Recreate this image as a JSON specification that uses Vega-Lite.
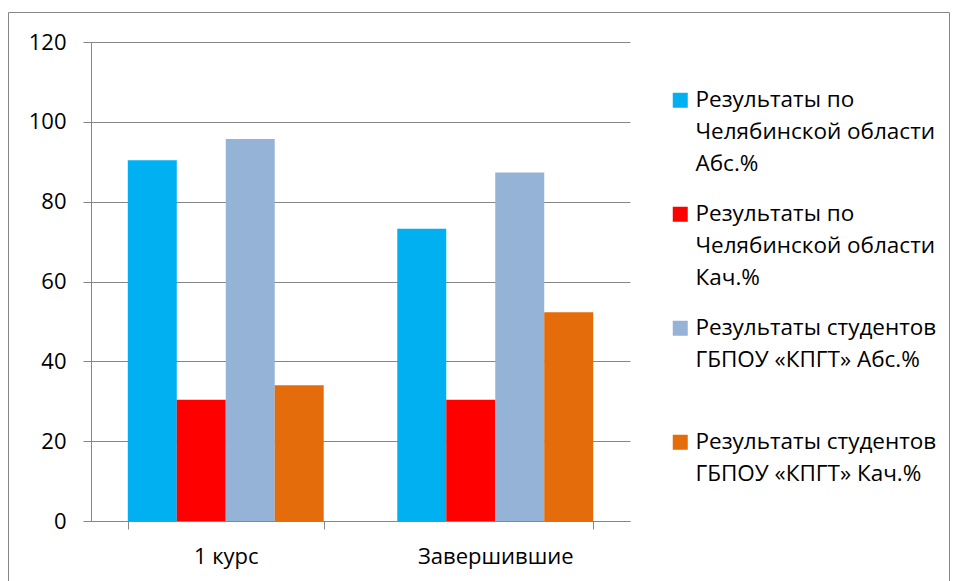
{
  "$schema": "https://vega.github.io/schema/vega-lite/v6.json",
  "autosize": {"type": "none"},
  "padding": {"left": 8, "top": 12, "right": 8, "bottom": 0},
  "width": 941,
  "height": 569,
  "background": "white",
  "data": {
    "values": [
      {"group": "1 курс", "series": "Результаты по|Челябинской области|Абс.%", "value": 90.4},
      {"group": "1 курс", "series": "Результаты по|Челябинской области|Кач.%", "value": 30.4},
      {"group": "1 курс", "series": "Результаты студентов|ГБПОУ «КПГТ» Абс.%|", "value": 95.7},
      {"group": "1 курс", "series": "Результаты студентов|ГБПОУ «КПГТ» Кач.%", "value": 34.0},
      {"group": "Завершившие", "series": "Результаты по|Челябинской области|Абс.%", "value": 73.2},
      {"group": "Завершившие", "series": "Результаты по|Челябинской области|Кач.%", "value": 30.4},
      {"group": "Завершившие", "series": "Результаты студентов|ГБПОУ «КПГТ» Абс.%|", "value": 87.3},
      {"group": "Завершившие", "series": "Результаты студентов|ГБПОУ «КПГТ» Кач.%", "value": 52.3}
    ]
  },
  "mark": {"type": "bar"},
  "encoding": {
    "x": {
      "field": "group",
      "type": "nominal",
      "sort": ["1 курс", "Завершившие"],
      "scale": {"range": [83, 622], "paddingInner": 0.273, "paddingOuter": 0.1365},
      "axis": {
        "title": null,
        "labelAngle": 0,
        "tickBand": "extent",
        "tickSize": 8,
        "tickColor": "#868686",
        "domainColor": "#868686",
        "labelPadding": 17,
        "labelFontSize": 22,
        "labelColor": "#000000",
        "labelFont": "Open Sans",
        "offset": -60,
        "grid": false
      }
    },
    "xOffset": {
      "field": "series",
      "type": "nominal",
      "sort": [
        "Результаты по|Челябинской области|Абс.%",
        "Результаты по|Челябинской области|Кач.%",
        "Результаты студентов|ГБПОУ «КПГТ» Абс.%|",
        "Результаты студентов|ГБПОУ «КПГТ» Кач.%"
      ],
      "scale": {"paddingInner": 0, "paddingOuter": 0}
    },
    "y": {
      "field": "value",
      "type": "quantitative",
      "scale": {"domain": [0, 120], "range": [509, 30], "nice": false},
      "axis": {
        "title": null,
        "values": [0, 20, 40, 60, 80, 100, 120],
        "offset": -83,
        "tickSize": 8,
        "tickColor": "#868686",
        "domainColor": "#868686",
        "gridColor": "#868686",
        "gridOpacity": 1,
        "labelPadding": 17,
        "labelFontSize": 22,
        "labelColor": "#000000",
        "labelFont": "Open Sans"
      }
    },
    "color": {
      "field": "series",
      "type": "nominal",
      "scale": {
        "domain": [
          "Результаты по|Челябинской области|Абс.%",
          "Результаты по|Челябинской области|Кач.%",
          "Результаты студентов|ГБПОУ «КПГТ» Абс.%|",
          "Результаты студентов|ГБПОУ «КПГТ» Кач.%"
        ],
        "range": ["#00B0F0", "#FF0000", "#95B3D7", "#E46C0A"]
      },
      "legend": {
        "title": null,
        "orient": "none",
        "legendX": 661,
        "legendY": 77,
        "symbolType": "square",
        "symbolSize": 225,
        "symbolStrokeWidth": 0,
        "labelFont": "Open Sans",
        "labelFontSize": 22.5,
        "labelColor": "#000000",
        "labelLimit": 400,
        "labelOffset": 4,
        "labelBaseline": "middle",
        "labelExpr": "split(datum.label, '|')",
        "rowPadding": 27,
        "encode": {"labels": {"update": {"lineHeight": {"value": 32}}}}
      }
    }
  },
  "config": {
    "view": {"stroke": "#868686", "strokeWidth": 1},
    "font": "Open Sans"
  }
}
